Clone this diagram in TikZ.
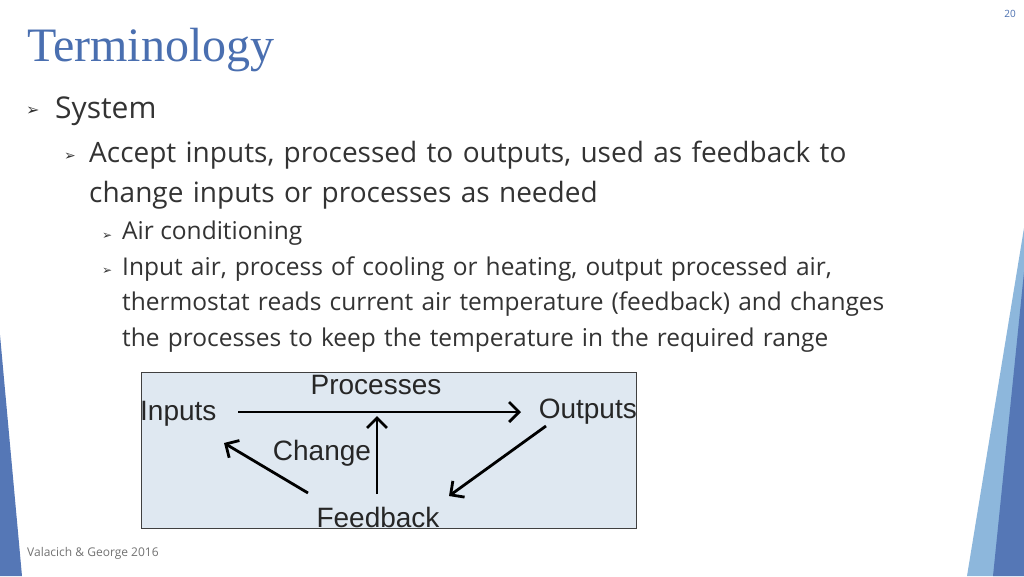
\documentclass[tikz,border=0pt]{standalone}
\usepackage{fontspec}
\setmainfont{Open Sans}
\newfontfamily\titlefont{Liberation Serif}
\newfontfamily\djfont{DejaVu Sans}
\newfontfamily\arialf{Liberation Sans}
\usetikzlibrary{arrows.meta}
\definecolor{tblue}{HTML}{4A6FB0}
\definecolor{lblue}{HTML}{8DB7DC}
\definecolor{dblue}{HTML}{5577B6}
\definecolor{txt}{HTML}{333333}
\definecolor{boxfill}{HTML}{DFE8F1}
\tikzset{
 bul/.style={anchor=base west,inner sep=0pt,text=txt},
 dtxt/.style={font=\arialf\fontsize{28}{30}\selectfont,inner sep=0pt,text=black!85},
 arr/.style={line width=2.8pt,-{Straight Barb[length=10pt,width=20pt,line width=2.8pt]}}
}
\begin{document}
\begin{tikzpicture}[x=1pt,y=-1pt]
\useasboundingbox (0,0) rectangle (1024,576);
\fill[white] (0,0) rectangle (1024,576);
\fill[dblue] (0,335) -- (22,576) -- (0,576) -- cycle;
\fill[lblue] (1024,228) -- (1024,576) -- (967,576) -- cycle;
\fill[dblue] (1024,272) -- (1024,576) -- (993,576) -- cycle;
\node[anchor=east,text=tblue,font=\fontsize{10}{12}\selectfont,inner sep=0pt] (pg) at (1016,14) {20};
\node[bul,text=tblue,font=\titlefont\fontsize{48}{54}\selectfont] (title) at (27,61) {Terminology};
\node[bul,font=\djfont\fontsize{16}{18}\selectfont] (b1) at (26,115) {➢};
\node[bul,font=\fontsize{30}{36}\selectfont] (t1) at (55,118) {System};
\node[bul,font=\djfont\fontsize{14}{16}\selectfont] (b2) at (64,160) {➢};
\node[bul,font=\fontsize{28}{40}\selectfont,align=left,text width=900pt] (t2) at (89,162) {Accept inputs, processed to outputs, used as feedback to\\change inputs or processes as needed};
\node[bul,font=\djfont\fontsize{12}{14}\selectfont] (b3) at (102,239) {➢};
\node[bul,font=\fontsize{24.5}{30}\selectfont] (t3) at (122,239) {Air conditioning};
\node[bul,font=\djfont\fontsize{12}{14}\selectfont] (b4) at (102,274) {➢};
\node[bul,font=\fontsize{24.5}{35.5}\selectfont,align=left,text width=900pt] (t4) at (122,275) {Input air, process of cooling or heating, output processed air,\\thermostat reads current air temperature (feedback) and changes\\the processes to keep the temperature in the required range};
\node[bul,text=black!55,font=\fontsize{12}{14}\selectfont] (cite) at (27,556) {Valacich \& George 2016};
% diagram
\draw[fill=boxfill,draw=black!75,line width=0.8pt] (141,372) rectangle (636,528);
\node[dtxt] (proc) at (376,385) {Processes};
\node[dtxt,anchor=west] (in) at (140,414) {Inputs};
\node[dtxt,anchor=east] (out) at (637,412) {Outputs};
\node[dtxt] (chg) at (322,453) {Change};
\node[dtxt] (fb) at (378,517) {Feedback};
\coordinate (a1) at (238,412);
\coordinate (a2) at (521,412);
\draw[arr] (a1) -- (a2);
\coordinate (fbtop) at (377,494);
\coordinate (mid) at (377,416);
\draw[arr] (fbtop) -- (mid);
\coordinate (c1) at (308,493);
\coordinate (c2) at (224,443);
\draw[arr] (c1) -- (c2);
\coordinate (d1) at (546,426);
\coordinate (d2) at (449,496);
\draw[arr] (d1) -- (d2);
\end{tikzpicture}
\end{document}
